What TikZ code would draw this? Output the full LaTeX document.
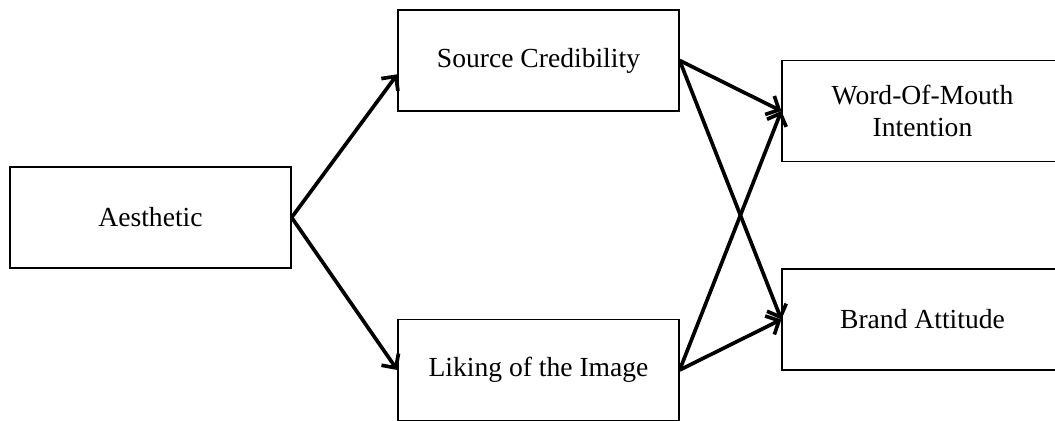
\documentclass[tikz,border=0pt]{standalone}
\usepackage{fontspec}
\setmainfont{Liberation Serif}
\usetikzlibrary{arrows.meta}
\begin{document}
\begin{tikzpicture}[x=0.435pt,y=-0.435pt,
  box/.style={draw,line width=0.6pt,minimum width=122.2pt,minimum height=43.9pt,
    inner sep=0pt,align=center,font=\fontsize{12}{14}\selectfont},
  link/.style={line width=1.6pt,-{Straight Barb[length=4.5pt,width=9pt]}}]
\useasboundingbox (0,0) rectangle (1055,421);
\clip (0,0) rectangle (1055,421);
\node[box] (aes) at (150.5,217.5) {Aesthetic};
\node[box] (cred) at (538.5,60.5) {Source Credibility};
\node[box] (like) at (538.5,370) {Liking of the Image};
\node[box] (wom) at (922.5,111) {Word-Of-Mouth\\Intention};
\node[box] (att) at (922.5,319.5) {Brand Attitude};
\draw[link] (aes.east) -- ([yshift=-6pt]cred.west);
\draw[link] (aes.east) -- (like.west);
\draw[link] (cred.east) -- (wom.west);
\draw[link] (cred.east) -- (att.west);
\draw[link] (like.east) -- (wom.west);
\draw[link] (like.east) -- (att.west);
\end{tikzpicture}
\end{document}
